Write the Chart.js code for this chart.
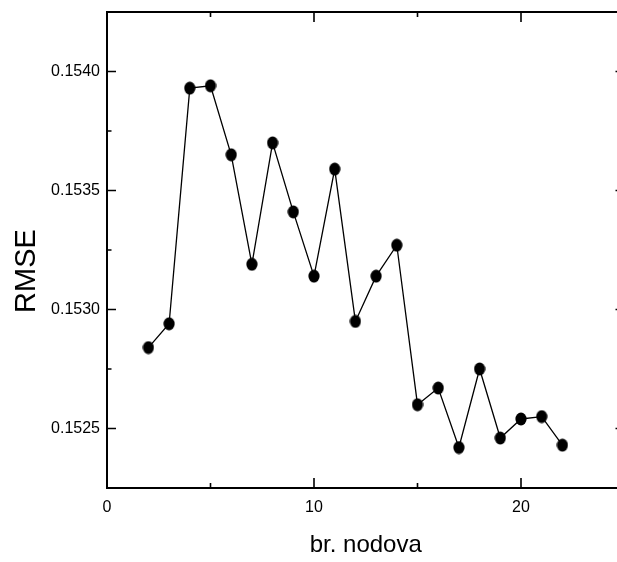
<!DOCTYPE html>
<html>
<head>
<meta charset="utf-8">
<script src="https://cdn.jsdelivr.net/npm/chart.js@4/dist/chart.umd.min.js"></script>
<style>
  html, body { margin: 0; padding: 0; background: #fff; }
  #wrap { width: 617px; height: 562px; overflow: hidden; position: relative; }
  canvas { display: block; }
</style>
</head>
<body>
<div id="wrap"><canvas id="c" width="640" height="562"></canvas></div>
<script>
// ---- data ----
const nodes = [2, 3, 4, 5, 6, 7, 8, 9, 10, 11, 12, 13, 14, 15, 16, 17, 18, 19, 20, 21, 22];
const rmse = [0.15284, 0.15294, 0.15393, 0.15394, 0.15365, 0.15319, 0.15370, 0.15341, 0.15314,
              0.15359, 0.15295, 0.15314, 0.15327, 0.15260, 0.15267, 0.15242, 0.15275, 0.15246,
              0.15254, 0.15255, 0.15243];
const xMajorTicks = [0, 10, 20];
const xMinorTicks = [5, 15, 25];
const yMajorTicks = [0.1525, 0.1530, 0.1535, 0.1540];
const yMinorTicks = [0.15275, 0.15325, 0.15375];
const xTitle = 'br. nodova';
const yTitle = 'RMSE';

const FONT = "'Liberation Sans', Arial, sans-serif";

// elliptical marker
const marker = document.createElement('canvas');
marker.width = 12; marker.height = 14;
(function () {
  const m = marker.getContext('2d');
  m.fillStyle = '#000';
  m.beginPath();
  m.ellipse(6, 7, 5.6, 6.5, 0, 0, Math.PI * 2);
  m.fill();
})();

const framePlugin = {
  id: 'frame',
  beforeDatasetsDraw(chart) {
    const { ctx, chartArea: a, scales } = chart;
    const xs = scales.x, ys = scales.y;
    ctx.save();
    ctx.strokeStyle = '#000';
    ctx.lineWidth = 2;
    ctx.strokeRect(a.left, a.top, a.right - a.left, a.bottom - a.top);
    ctx.lineWidth = 1.6;
    ctx.beginPath();
    const xt = (v, len) => {
      const p = xs.getPixelForValue(v);
      ctx.moveTo(p, a.bottom); ctx.lineTo(p, a.bottom - len);
      ctx.moveTo(p, a.top); ctx.lineTo(p, a.top + len);
    };
    const yt = (v, len) => {
      const p = ys.getPixelForValue(v);
      ctx.moveTo(a.left, p); ctx.lineTo(a.left + len, p);
      ctx.moveTo(a.right, p); ctx.lineTo(a.right - len, p);
    };
    xMajorTicks.forEach(v => xt(v, 10));
    xMinorTicks.forEach(v => xt(v, 5));
    yMajorTicks.forEach(v => yt(v, 9));
    yMinorTicks.forEach(v => yt(v, 4.5));
    ctx.stroke();
    ctx.restore();
  },
  afterDraw(chart) {
    const { ctx } = chart;
    ctx.save();
    ctx.fillStyle = '#000';
    ctx.font = '29px ' + FONT;
    ctx.textAlign = 'center';
    ctx.textBaseline = 'middle';
    ctx.translate(27, 271);
    ctx.rotate(-Math.PI / 2);
    ctx.fillText(yTitle, 0, 0);
    ctx.restore();
  }
};

new Chart(document.getElementById('c'), {
  type: 'line',
  data: {
    datasets: [{
      data: nodes.map((n, i) => ({ x: n, y: rmse[i] })),
      borderColor: '#000',
      backgroundColor: '#000',
      borderWidth: 1.3,
      tension: 0,
      pointStyle: marker,
      pointRadius: 6,
      pointHoverRadius: 6
    }]
  },
  options: {
    responsive: false,
    animation: false,
    devicePixelRatio: 1,
    layout: { padding: { top: 12, right: 15.5, left: 0, bottom: 0 } },
    plugins: { legend: { display: false }, tooltip: { enabled: false } },
    events: [],
    scales: {
      x: {
        type: 'linear',
        min: 0, max: 25,
        grid: { display: false, drawTicks: false },
        border: { display: false },
        afterBuildTicks: s => { s.ticks = xMajorTicks.map(v => ({ value: v })); },
        afterFit: s => { s.height = 74; s.paddingLeft = 0; s.paddingRight = 0; },
        ticks: { color: '#000', padding: 10, font: { family: FONT, size: 16 }, maxRotation: 0 },
        title: { display: true, text: xTitle, color: '#000', font: { family: FONT, size: 24 }, padding: { top: 0, bottom: 2 } }
      },
      y: {
        type: 'linear',
        min: 0.15225, max: 0.15425,
        grid: { display: false, drawTicks: false },
        border: { display: false },
        afterBuildTicks: s => { s.ticks = yMajorTicks.map(v => ({ value: v })); },
        afterFit: s => { s.width = 107; s.paddingTop = 0; s.paddingBottom = 0; },
        ticks: { color: '#000', padding: 7, font: { family: FONT, size: 16 }, callback: v => Number(v).toFixed(4) }
      }
    }
  },
  plugins: [framePlugin]
});
</script>
</body>
</html>
